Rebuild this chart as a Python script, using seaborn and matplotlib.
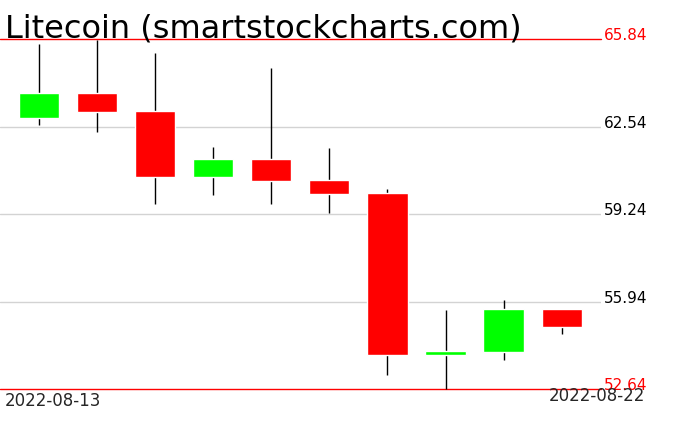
import numpy as np
import seaborn as sns
import matplotlib
matplotlib.use("Agg")
import matplotlib.pyplot as plt

# candle data (10 days)
dates = ['2022-08-13', '2022-08-14', '2022-08-15', '2022-08-16', '2022-08-17',
         '2022-08-18', '2022-08-19', '2022-08-20', '2022-08-21', '2022-08-22']
opens = [62.87, 63.80, 63.12, 60.64, 61.31, 60.51, 60.02, 53.95, 54.06, 55.65]
closes = [63.80, 63.09, 60.64, 61.31, 60.49, 59.99, 53.95, 54.09, 55.65, 55.00]
highs = [65.65, 65.82, 65.31, 61.76, 64.74, 61.72, 60.17, 55.61, 55.99, 55.68]
lows = [62.60, 62.34, 59.63, 59.96, 59.63, 59.29, 53.19, 52.64, 53.76, 54.74]

y_ticks = [52.64, 55.94, 59.24, 62.54, 65.84]
y_labels = ['52.64', '55.94', '59.24', '62.54', '65.84']

sns.set_theme(style="white")
plt.rcParams['font.family'] = ['DejaVu Sans']

fig = plt.figure(figsize=(6.76, 4.31), dpi=100)
ax = fig.add_axes([0.0, 0.0944, 0.889, 0.8128])

x = np.arange(len(dates))
o = np.array(opens)
c = np.array(closes)
colors = ['#00ff00' if cc >= oo else '#ff0000' for oo, cc in zip(o, c)]

# gridlines and the red min/max lines
for t in y_ticks[1:-1]:
    ax.axhline(t, color='#d3d3d3', lw=1, zorder=0)
ax.axhline(y_ticks[0], color='#ff0000', lw=1, zorder=0, clip_on=False)
ax.axhline(y_ticks[-1], color='#ff0000', lw=1, zorder=0, clip_on=False)

# wicks then bodies
ax.vlines(x, lows, highs, color='black', lw=1, zorder=1, clip_on=False)
ax.bar(x, np.abs(c - o), bottom=np.minimum(o, c), width=0.69,
       color=colors, zorder=2, clip_on=False)

ax.set_xlim(-0.68, 9.68)
ax.set_ylim(52.64, 65.84)
ax.set_xticks([])
ax.yaxis.tick_right()
ax.set_yticks(y_ticks)
ax.set_yticklabels(y_labels, fontsize=11)
ax.tick_params(axis='y', length=0, pad=2)
for lab, t in zip(ax.get_yticklabels(), y_ticks):
    lab.set_verticalalignment('baseline')
    if t in (y_ticks[0], y_ticks[-1]):
        lab.set_color('#ff0000')
    else:
        lab.set_color('black')
sns.despine(ax=ax, left=True, bottom=True, right=True, top=True)

fig.text(0.0074, 0.914, 'Litecoin (smartstockcharts.com)', fontsize=23,
         color='black', va='baseline', ha='left')
fig.text(0.0074, 0.058, dates[0], fontsize=12, va='baseline', ha='left')
fig.text(0.954, 0.0696, dates[-1], fontsize=12, va='baseline', ha='right')

fig.savefig('out.png', dpi=100, facecolor='white')
